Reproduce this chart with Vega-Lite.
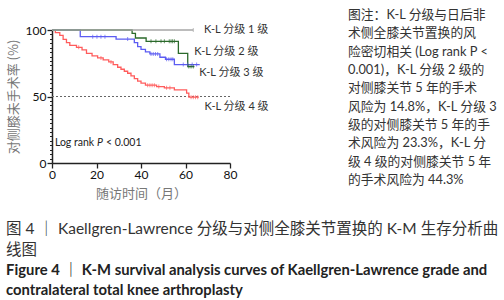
{
  "$schema": "https://vega.github.io/schema/vega-lite/v6.json",
  "padding": {"left": 6, "top": 6, "right": 0, "bottom": 0},
  "background": "white",
  "config": {
    "view": {"stroke": null},
    "font": "Lato, Noto Sans CJK SC",
    "text": {"font": "Lato, Noto Sans CJK SC"}
  },
  "title": {
    "text": ["图 4 ｜ Kaellgren-Lawrence 分级与对侧全膝关节置换的 K-M 生存分析曲", "线图"],
    "subtitle": ["Figure 4 ｜ K-M survival analysis curves of Kaellgren-Lawrence grade and", "contralateral total knee arthroplasty"],
    "orient": "bottom",
    "anchor": "start",
    "frame": "bounds",
    "offset": 22,
    "dx": -1,
    "font": "Lato, Noto Sans CJK SC",
    "fontSize": 15.5,
    "fontWeight": "normal",
    "color": "#333333",
    "lineHeight": 21,
    "subtitleFont": "Lato, Noto Sans CJK SC",
    "subtitleFontSize": 14.8,
    "subtitleFontWeight": "bold",
    "subtitleColor": "#222222",
    "subtitleLineHeight": 20.5,
    "subtitlePadding": 4
  },
  "datasets": {
    "km": [
      {"grade": "4级", "t": 0, "s": 100},
      {"grade": "4级", "t": 1.5, "s": 98},
      {"grade": "4级", "t": 3.5, "s": 96},
      {"grade": "4级", "t": 5, "s": 93},
      {"grade": "4级", "t": 6.5, "s": 90.5},
      {"grade": "4级", "t": 8, "s": 88.5},
      {"grade": "4级", "t": 11, "s": 87},
      {"grade": "4级", "t": 13.5, "s": 85},
      {"grade": "4级", "t": 15.5, "s": 82.5},
      {"grade": "4级", "t": 18, "s": 80.5},
      {"grade": "4级", "t": 20.5, "s": 79},
      {"grade": "4级", "t": 23, "s": 77.5},
      {"grade": "4级", "t": 25.5, "s": 76},
      {"grade": "4级", "t": 27.5, "s": 74},
      {"grade": "4级", "t": 29.5, "s": 72},
      {"grade": "4级", "t": 31, "s": 70.5},
      {"grade": "4级", "t": 32.5, "s": 69},
      {"grade": "4级", "t": 34, "s": 67.5},
      {"grade": "4级", "t": 35.5, "s": 65.5},
      {"grade": "4级", "t": 37, "s": 63.5},
      {"grade": "4级", "t": 38.5, "s": 61.5},
      {"grade": "4级", "t": 40, "s": 60},
      {"grade": "4级", "t": 42, "s": 58.5},
      {"grade": "4级", "t": 47, "s": 57.5},
      {"grade": "4级", "t": 50.5, "s": 56.5},
      {"grade": "4级", "t": 55, "s": 55},
      {"grade": "4级", "t": 60.5, "s": 52.5},
      {"grade": "4级", "t": 61.5, "s": 49.5},
      {"grade": "4级", "t": 66, "s": 49.5},
      {"grade": "3级", "t": 0, "s": 100},
      {"grade": "3级", "t": 12.7, "s": 95},
      {"grade": "3级", "t": 28.8, "s": 93.2},
      {"grade": "3级", "t": 37, "s": 90.5},
      {"grade": "3级", "t": 38.5, "s": 87.5},
      {"grade": "3级", "t": 40, "s": 85.5},
      {"grade": "3级", "t": 42, "s": 83.5},
      {"grade": "3级", "t": 44, "s": 82},
      {"grade": "3级", "t": 48.5, "s": 79.5},
      {"grade": "3级", "t": 51, "s": 78},
      {"grade": "3级", "t": 55, "s": 74},
      {"grade": "3级", "t": 66.4, "s": 74},
      {"grade": "2级", "t": 0, "s": 100},
      {"grade": "2级", "t": 36, "s": 97.5},
      {"grade": "2级", "t": 37.5, "s": 94},
      {"grade": "2级", "t": 42.3, "s": 91.5},
      {"grade": "2级", "t": 56.8, "s": 82.5},
      {"grade": "2级", "t": 61, "s": 72.5},
      {"grade": "2级", "t": 64, "s": 72.5},
      {"grade": "1级", "t": 0, "s": 100},
      {"grade": "1级", "t": 63.5, "s": 100}
    ],
    "censor": [
      {"grade": "4级", "t": 12, "s": 87},
      {"grade": "4级", "t": 22, "s": 79},
      {"grade": "4级", "t": 26.5, "s": 76},
      {"grade": "4级", "t": 43, "s": 58.5},
      {"grade": "4级", "t": 44, "s": 58.5},
      {"grade": "4级", "t": 45, "s": 58.5},
      {"grade": "4级", "t": 46, "s": 58.5},
      {"grade": "4级", "t": 48, "s": 57.5},
      {"grade": "4级", "t": 51.5, "s": 56.5},
      {"grade": "4级", "t": 53, "s": 56.5},
      {"grade": "4级", "t": 62.5, "s": 49.5},
      {"grade": "4级", "t": 63.5, "s": 49.5},
      {"grade": "4级", "t": 64.5, "s": 49.5},
      {"grade": "4级", "t": 65.5, "s": 49.5},
      {"grade": "3级", "t": 18.3, "s": 95},
      {"grade": "3级", "t": 20.2, "s": 95},
      {"grade": "3级", "t": 22, "s": 95},
      {"grade": "3级", "t": 23.8, "s": 95},
      {"grade": "3级", "t": 34, "s": 93.2},
      {"grade": "3级", "t": 44.5, "s": 82},
      {"grade": "3级", "t": 45.5, "s": 82},
      {"grade": "3级", "t": 46.5, "s": 82},
      {"grade": "3级", "t": 47.5, "s": 82},
      {"grade": "3级", "t": 51.5, "s": 78},
      {"grade": "3级", "t": 52.5, "s": 78},
      {"grade": "3级", "t": 53.5, "s": 78},
      {"grade": "3级", "t": 54.3, "s": 78},
      {"grade": "3级", "t": 59, "s": 74},
      {"grade": "3级", "t": 61, "s": 74},
      {"grade": "3级", "t": 63, "s": 74},
      {"grade": "3级", "t": 65, "s": 74},
      {"grade": "2级", "t": 44.5, "s": 91.5},
      {"grade": "2级", "t": 46.7, "s": 91.5},
      {"grade": "2级", "t": 49, "s": 91.5},
      {"grade": "2级", "t": 50.5, "s": 91.5},
      {"grade": "2级", "t": 52.7, "s": 91.5},
      {"grade": "2级", "t": 53.5, "s": 91.5},
      {"grade": "2级", "t": 54.2, "s": 91.5},
      {"grade": "2级", "t": 55, "s": 91.5},
      {"grade": "2级", "t": 61.5, "s": 72.5},
      {"grade": "2级", "t": 62.5, "s": 72.5},
      {"grade": "2级", "t": 63.5, "s": 72.5},
      {"grade": "1级", "t": 63.5, "s": 100}
    ],
    "labels": [
      {"label": "K-L 分级 1 级", "t": 68.3, "s": 100},
      {"label": "K-L 分级 2 级", "t": 63.9, "s": 83.2},
      {"label": "K-L 分级 3 级", "t": 66.2, "s": 67.7},
      {"label": "K-L 分级 4 级", "t": 68.5, "s": 42.3}
    ],
    "ref": [{"s": 50}],
    "logrank": [{"t": 1.3, "s": 15}],
    "note": [
      {"line": 1, "text": "图注：K-L 分级与日后非"},
      {"line": 2, "text": "术侧全膝关节置换的风"},
      {"line": 3, "text": "险密切相关 (Log rank P <"},
      {"line": 4, "text": "0.001)，K-L 分级 2 级的"},
      {"line": 5, "text": "对侧膝关节 5 年的手术"},
      {"line": 6, "text": "风险为 14.8%，K-L 分级 3"},
      {"line": 7, "text": "级的对侧膝关节 5 年的手"},
      {"line": 8, "text": "术风险为 23.3%，K-L 分"},
      {"line": 9, "text": "级 4 级的对侧膝关节 5 年"},
      {"line": 10, "text": "的手术风险为 44.3%"}
    ]
  },
  "hconcat": [
    {
      "width": 178,
      "height": 157,
      "resolve": {"axis": {"x": "independent", "y": "independent"}},
      "layer": [
        {
          "data": {"name": "ref"},
          "mark": {"type": "rule", "color": "#666666", "strokeDash": [2, 2], "strokeWidth": 1},
          "encoding": {
            "y": {
              "field": "s", "type": "quantitative",
              "scale": {"domain": [0, 100], "nice": false, "range": [157, 24]},
              "axis": {
                "orient": "left",
                "values": [3.333, 6.667, 10, 13.333, 16.667, 20, 23.333, 26.667, 30, 33.333, 36.667, 40, 43.333, 46.667, 53.333, 56.667, 60, 63.333, 66.667, 70, 73.333, 76.667, 80, 83.333, 86.667, 90, 93.333, 96.667],
                "labels": false, "domain": false, "grid": false, "title": null,
                "tickSize": 2.5, "tickColor": "#222222", "tickWidth": 1
              }
            }
          }
        },
        {
          "data": {"name": "km"},
          "mark": {"type": "line", "interpolate": "step-after", "strokeWidth": 1.3},
          "encoding": {
            "x": {
              "field": "t", "type": "quantitative",
              "scale": {"domain": [0, 80], "nice": false},
              "axis": {
                "orient": "bottom",
                "values": [0, 20, 40, 60, 80], "title": "随访时间（月）",
                "tickSize": 5, "labelPadding": 1, "titlePadding": 7,
                "labelFlush": false, "grid": false,
                "domainColor": "#222222", "domainWidth": 1.5, "tickColor": "#222222", "tickWidth": 1.3,
                "labelFont": "Lato", "labelFontSize": 12, "labelColor": "#111111",
                "titleFont": "Noto Sans CJK SC", "titleFontSize": 13, "titleFontWeight": "normal", "titleColor": "#777777"
              }
            },
            "y": {
              "field": "s", "type": "quantitative",
              "scale": {"domain": [0, 100], "nice": false, "range": [157, 24]},
              "axis": {
                "orient": "left",
                "values": [0, 50, 100], "title": "对侧膝未手术率 (%)",
                "tickSize": 5, "labelPadding": 1, "titlePadding": 5,
                "labelFlush": false, "grid": false,
                "domainColor": "#222222", "domainWidth": 1.5, "tickColor": "#222222", "tickWidth": 1.3,
                "labelFont": "Lato", "labelFontSize": 12, "labelColor": "#111111",
                "titleFont": "Noto Sans CJK SC", "titleFontSize": 13, "titleFontWeight": "normal", "titleColor": "#777777"
              }
            },
            "color": {
              "field": "grade", "type": "nominal",
              "scale": {"domain": ["1级", "2级", "3级", "4级"], "range": ["#a6a6a6", "#2b6a2b", "#5c5cf2", "#ff5c5c"]},
              "legend": null
            },
            "detail": {"field": "grade"}
          }
        },
        {
          "data": {"name": "censor"},
          "mark": {"type": "tick", "orient": "vertical", "size": 4, "thickness": 1},
          "encoding": {
            "x": {"field": "t", "type": "quantitative", "axis": null},
            "y": {"field": "s", "type": "quantitative", "axis": null},
            "color": {"field": "grade", "type": "nominal", "legend": null}
          }
        },
        {
          "data": {"name": "labels"},
          "mark": {"type": "text", "align": "left", "baseline": "middle", "fontSize": 11, "color": "#333333", "font": "Lato, Noto Sans CJK SC"},
          "encoding": {
            "x": {"field": "t", "type": "quantitative", "axis": null},
            "y": {"field": "s", "type": "quantitative", "axis": null},
            "text": {"field": "label"}
          }
        },
        {
          "data": {"name": "logrank"},
          "mark": {"type": "text", "align": "left", "baseline": "middle", "fontSize": 10.5, "color": "#222222", "font": "Lato"},
          "encoding": {
            "x": {"field": "t", "type": "quantitative", "axis": null},
            "y": {"field": "s", "type": "quantitative", "axis": null},
            "text": {"value": "Log rank"}
          }
        },
        {
          "data": {"name": "logrank"},
          "mark": {"type": "text", "align": "left", "baseline": "middle", "fontSize": 10.5, "fontStyle": "italic", "color": "#222222", "font": "Lato", "dx": 42},
          "encoding": {
            "x": {"field": "t", "type": "quantitative", "axis": null},
            "y": {"field": "s", "type": "quantitative", "axis": null},
            "text": {"value": "P"}
          }
        },
        {
          "data": {"name": "logrank"},
          "mark": {"type": "text", "align": "left", "baseline": "middle", "fontSize": 10.5, "color": "#222222", "font": "Lato", "dx": 51},
          "encoding": {
            "x": {"field": "t", "type": "quantitative", "axis": null},
            "y": {"field": "s", "type": "quantitative", "axis": null},
            "text": {"value": "< 0.001"}
          }
        }
      ]
    },
    {
      "width": 172,
      "height": {"step": 18.3},
      "data": {"name": "note"},
      "mark": {"type": "text", "align": "left", "baseline": "middle", "fontSize": 12.8, "color": "#333333", "font": "Lato, Noto Sans CJK SC"},
      "encoding": {
        "y": {"field": "line", "type": "ordinal", "axis": null},
        "x": {"datum": 0, "type": "quantitative", "scale": {"domain": [0, 1]}, "axis": null},
        "text": {"field": "text"}
      }
    }
  ],
  "spacing": 79
}
